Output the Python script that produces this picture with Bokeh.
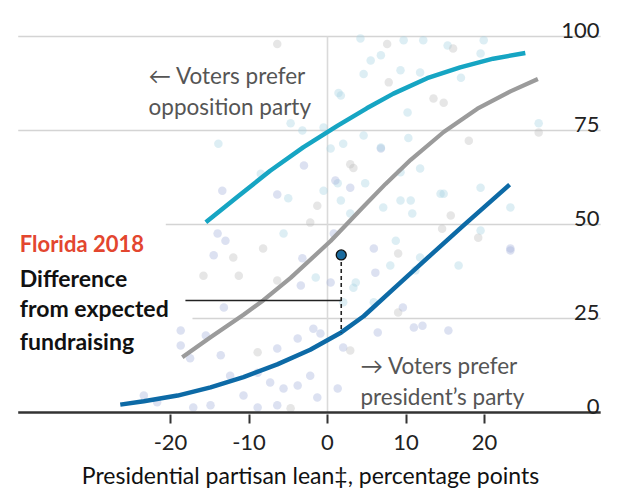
from bokeh.plotting import figure
from bokeh.embed import file_html
from bokeh.resources import INLINE
from bokeh.models import ColumnDataSource, FixedTicker
from bokeh.transform import factor_cmap
from bokeh.core.properties import value

# ---------------- data ----------------
x_ticks = [-20, -10, 0, 10, 20]
x_tick_labels = ["-20", "-10", "0", "10", "20"]
y_ticks = [0, 25, 50, 75, 100]
y_tick_labels = ["0", "25", "50", "75", "100"]

cyan_x = [-15.5, -11.5, -7.3, -3.1, 1.3, 5.0, 8.4, 12.7, 16.9, 21.1, 25.2]
cyan_y = [50.6, 57.3, 64.3, 70.5, 76.3, 80.9, 84.8, 88.9, 91.8, 94.1, 95.6]

gray_x = [-18.5, -14.9, -10.7, -8.2, -4.7, 0.4, 4.6, 7.4, 10.6, 14.8, 19.1, 23.3, 26.8]
gray_y = [14.7, 20.0, 26.0, 29.8, 35.8, 45.6, 54.8, 60.8, 67.2, 74.6, 80.8, 85.4, 88.7]

blue_x = [-26.4, -23.4, -19.1, -14.9, -10.7, -6.4, -2.2, 1.75, 4.6, 8.9, 13.1, 17.3, 23.2]
blue_y = [2.1, 3.0, 4.5, 6.7, 9.4, 12.8, 16.7, 21.3, 25.6, 33.8, 41.8, 49.7, 60.6]

florida_x = 1.75
florida_y = 41.9
florida_expected = 21.3
marker_line_y = 29.8

dots_x = [-6.4, 1.4, -3.2, -13.9, -3.0, -13.4, -6.4, -5.0, -1.3, 1.3, 2.9, 2.0, -8.5, -0.5, -4.7, -0.5,
          4.2, 7.6, 9.7, 12.2, 15.3, 16.0, 19.9, 5.5, 6.8, 4.6, 9.3, 7.8, 11.8, 13.5, 14.8, 10.2, 17.0, 19.5,
          26.9, 26.9, 4.6, 10.3, 18.0, 6.8, 3.3, 11.8, 9.3, 4.8, 14.4, 19.5, 23.3, 10.6, 7.1, 15.7, 2.9,
          1.7, 0.4, 1.0, 1.7, 2.9, 0.8, 6.8, 9.3, 10.8, 14.8, 19.5, 23.3,
          -14.0, -13.0, -8.2, -12.0, -14.5, -5.6, -2.2, -3.2, -1.5, 0.4, -3.4, -6.4, -15.8, -11.3, -13.2,
          -18.7, -15.5, -18.7, -17.5, -13.6, -8.9, -6.4, -3.8, -1.8, 2.0, -0.9, -8.9, -12.4, -7.3, -5.6,
          -3.8, -2.2, 1.3, -1.3, -10.7, -14.9, -17.1, -21.7, -23.4, -8.9, -6.4, -4.7,
          5.9, 8.7, 9.0, 11.8, 14.6, 19.2, 23.3, 6.1, 8.0, 11.2, 16.7, 3.6, 3.3, 5.9, 9.6, 9.0, 11.0,
          12.1, 15.4, 2.9, 2.0, 6.4]
dots_y = [98.0, 85.0, 75.0, 71.5, 65.7, 59.0, 58.0, 57.0, 55.0, 61.0, 66.0, 71.5, 63.5, 59.0, 76.9, 75.8,
          99.5, 98.0, 99.0, 99.0, 97.6, 96.8, 99.0, 93.6, 95.0, 90.0, 91.0, 87.8, 90.4, 83.5, 82.4, 79.8, 89.0, 95.5,
          76.9, 74.5, 73.7, 73.0, 72.3, 70.2, 65.0, 64.9, 63.9, 61.0, 58.2, 59.8, 54.5, 56.4, 54.5, 52.4, 59.8,
          84.3, 70.2, 61.7, 56.4, 52.9, 47.6, 70.5, 56.4, 52.9, 58.2, 48.4, 43.6,
          47.6, 45.7, 43.6, 41.2, 41.8, 47.6, 50.5, 41.0, 35.9, 34.6, 33.8, 35.1, 36.4, 36.4, 27.9,
          21.8, 20.5, 17.8, 14.4, 15.2, 16.0, 17.0, 19.7, 22.3, 17.3, 21.0, 10.6, 9.8, 8.0, 6.4,
          7.2, 9.8, 6.4, 4.0, 4.5, 1.9, 1.3, 2.7, 4.5, 1.3, 1.9, 1.1,
          43.6, 45.7, 42.3, 41.2, 48.9, 46.5, 43.1, 37.2, 39.1, 37.8, 39.1, 34.6, 33.2, 29.3, 27.9, 26.6, 22.6,
          23.1, 21.8, 16.5, 29.3, 21.3]
dots_group = ["g", "c", "c", "c", "b", "b", "b", "c", "g", "c", "g", "c", "c", "c", "c", "c",
              "c", "g", "c", "c", "c", "g", "c", "c", "c", "c", "c", "g", "c", "g", "g", "c", "c", "c",
              "c", "g", "c", "c", "g", "b", "g", "c", "c", "c", "c", "c", "c", "c", "c", "g", "b",
              "c", "c", "b", "c", "c", "b", "c", "c", "c", "c", "c", "b",
              "b", "b", "g", "g", "b", "c", "g", "b", "c", "b", "b", "g", "g", "g", "b",
              "b", "b", "b", "b", "b", "g", "b", "b", "b", "b", "b", "b", "b", "b", "b",
              "b", "b", "b", "b", "b", "b", "b", "b", "b", "b", "b", "g",
              "b", "c", "g", "c", "g", "g", "b", "b", "c", "c", "c", "c", "c", "c", "b", "g", "b",
              "b", "b", "g", "c", "b"]

# ---------------- figure ----------------
FONT = "Lato"
PX_PER_X = 7.85
PX_PER_Y = 3.76
x_lo = (0 - 327) / PX_PER_X
x_hi = (620 - 327) / PX_PER_X
y_lo = (412 - 414) / PX_PER_Y
y_hi = (412 - 0) / PX_PER_Y

p = figure(frame_width=620, frame_height=414, x_range=(x_lo, x_hi), y_range=(y_lo, y_hi),
           output_backend="svg", toolbar_location=None, y_axis_location=None,
           min_border_left=0, min_border_right=0, min_border_top=0, min_border_bottom=0)
p.outline_line_color = None
p.grid.visible = False
p.background_fill_color = "white"
p.border_fill_color = "white"

# gridlines
grid_start = {0: -39.4, 25: -17.2, 50: -20.6, 75: -39.4, 100: -39.4}
p.segment(x0=[grid_start[t] for t in y_ticks[1:]], y0=y_ticks[1:], x1=[34.8] * 4, y1=y_ticks[1:],
          line_color="#d4d4d4", line_width=1.6)
p.segment(x0=[0], y0=[0], x1=[0], y1=[100], line_color="#dadada", line_width=1.6)

# scatter
src = ColumnDataSource(dict(x=dots_x, y=dots_y, g=dots_group))
p.scatter("x", "y", source=src, size=8.5, line_color=None, fill_alpha=0.38,
          fill_color=factor_cmap("g", palette=["#a6d3e3", "#a3b0db", "#bdbdbd"], factors=["c", "b", "g"]))

# zero line
p.segment(x0=[-39.4], y0=[0], x1=[34.8], y1=[0], line_color="#333333", line_width=2.6)

# curves
p.line(cyan_x, cyan_y, line_color="#16a5c3", line_width=4.5, line_cap="butt", line_join="round")
p.line(gray_x, gray_y, line_color="#9b9b9b", line_width=4.2, line_cap="butt", line_join="round")
p.line(blue_x, blue_y, line_color="#0d6aa6", line_width=4.5, line_cap="butt", line_join="round")

# Florida annotation
p.segment(x0=[-18.1], y0=[marker_line_y], x1=[florida_x], y1=[marker_line_y], line_color="#222222", line_width=1.6)
p.segment(x0=[florida_x], y0=[florida_y], x1=[florida_x], y1=[florida_expected], line_color="#222222",
          line_width=1.6, line_dash="4 3")
p.scatter([florida_x], [florida_y], size=10, fill_color="#1a6b9e", line_color="#111111", line_width=1.3)

# y labels (right side)
p.text(x=[34.65] * 5, y=[t + 1.6 for t in y_ticks], text=y_tick_labels, text_align="right",
       text_baseline="alphabetic", text_font=value(FONT), text_font_size="22px", text_color="#222222")

# texts
p.text(x=[-22.8, -22.8], y=[89.6, 81.4], text=["\u2190 Voters prefer", "opposition party"],
       text_font=value(FONT), text_font_size="22.5px", text_color="#555555", text_baseline="alphabetic")
p.text(x=[4.2, 4.2], y=[12.5, 4.2], text=["\u2192 Voters prefer", "president\u2019s party"],
       text_font=value(FONT), text_font_size="22.5px", text_color="#555555", text_baseline="alphabetic")
p.text(x=[-39.2], y=[44.9], text=["Florida 2018"], text_font=value(FONT), text_font_size="22px",
       text_font_style="bold", text_color="#e3462f", text_baseline="alphabetic")
p.text(x=[-39.2] * 3, y=[35.9, 27.7, 18.9], text=["Difference", "from expected", "fundraising"],
       text_font=value(FONT), text_font_size="23px", text_font_style="bold", text_color="#111111",
       text_baseline="alphabetic")

# x axis
ax = p.xaxis[0]
ax.ticker = FixedTicker(ticks=x_ticks)
ax.major_label_overrides = {t: lab for t, lab in zip(x_ticks, x_tick_labels)}
ax.axis_line_color = None
ax.major_tick_line_color = "#333333"
ax.major_tick_line_width = 2
ax.major_tick_out = 9
ax.major_tick_in = 0
ax.minor_tick_line_color = None
ax.major_label_text_font = FONT
ax.major_label_text_font_size = "22px"
ax.major_label_text_color = "#222222"
ax.major_label_standoff = 11
ax.axis_label = "Presidential partisan lean\u2021, percentage points"
ax.axis_label_text_font = FONT
ax.axis_label_text_font_size = "23px"
ax.axis_label_text_font_style = "normal"
ax.axis_label_text_color = "#111111"
ax.axis_label_standoff = 8

open("out.html", "w").write(file_html(p, INLINE))
